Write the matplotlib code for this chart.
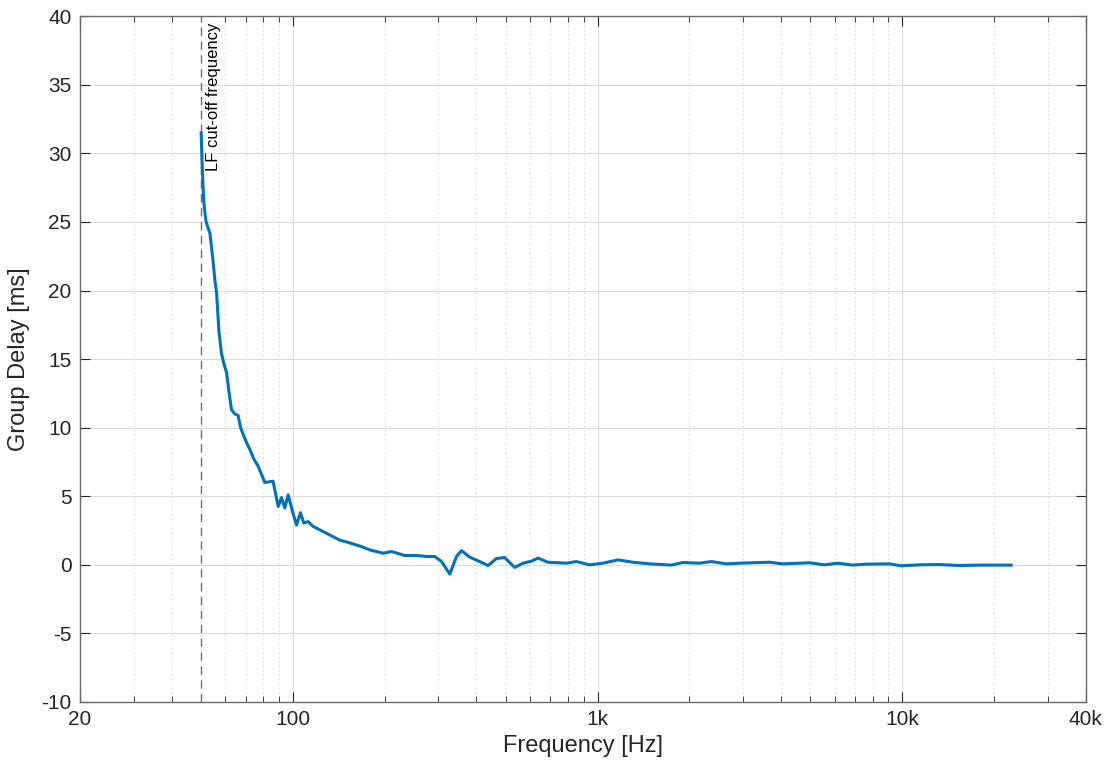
import matplotlib.pyplot as plt
import numpy as np

plt.rcParams['font.family'] = ['Liberation Sans', 'DejaVu Sans']
plt.rcParams['axes.unicode_minus'] = False

# group delay (frequency in Hz, delay in ms)
freq = [50, 50.5, 51, 51.8, 52.6, 53.4, 54.5, 55.5, 56.2, 57.2, 58.3, 59.5,
        60.6, 61.8, 62.9, 64.5, 66.1, 67.4, 68.7, 70.5, 72.3, 74.5, 76.9, 80.9,
        86.1, 89.5, 91.8, 94.1, 96.5, 100, 102.8, 105.9, 108.6, 112.2, 116.6,
        128.9, 142.6, 153.8, 167.9, 178.8, 197.8, 210.8, 232.9, 254.6, 274.4,
        292.4, 307.5, 327.4, 344.5, 357.6, 380.7, 410.2, 437.3, 465.9, 495.8,
        534.6, 569.7, 606.9, 637.9, 687.6, 790.6, 851.9, 942, 1042, 1167, 1307,
        1484, 1747, 1907, 2163, 2364, 2646, 2927, 3671, 4059, 4966, 5560, 6150,
        6890, 7620, 9085, 9925, 11400, 13260, 15430, 17950, 22800]
delay = [31.5, 28.5, 26.5, 25.1, 24.6, 24.2, 22.5, 20.7, 19.8, 17.0, 15.4, 14.6,
         14.0, 12.5, 11.3, 11.0, 10.9, 10.0, 9.5, 8.9, 8.4, 7.7, 7.2, 6.0,
         6.1, 4.25, 4.9, 4.15, 5.1, 3.8, 2.9, 3.8, 3.05, 3.15, 2.8,
         2.3, 1.8, 1.6, 1.33, 1.09, 0.85, 0.97, 0.68, 0.68, 0.61,
         0.61, 0.24, -0.68, 0.61, 1.04, 0.56, 0.24, -0.05, 0.46, 0.53,
         -0.19, 0.12, 0.27, 0.49, 0.19, 0.12, 0.24, 0.0, 0.12, 0.36, 0.19,
         0.07, -0.02, 0.17, 0.12, 0.24, 0.07, 0.12, 0.19, 0.07, 0.15, 0.0, 0.12,
         -0.02, 0.05, 0.07, -0.07, 0.0, 0.02, -0.05, -0.02, -0.02]

cutoff = 50
xticks = [20, 100, 1000, 10000, 40000]
xticklabels = ['20', '100', '1k', '10k', '40k']
yticks = np.arange(-10, 41, 5)

txt = '#262626'
fig = plt.figure(figsize=(11.1, 7.71), dpi=100)
ax = fig.add_axes([0.072, 0.0895, 0.906, 0.8895])

ax.semilogx(freq, delay, color='#0072BD', lw=2.2, zorder=3)
ax.axvline(cutoff, color='#707070', ls=(0, (6, 4)), lw=1.0, zorder=2)
ax.text(cutoff * 1.035, 39.5, 'LF cut-off frequency', rotation=90,
        ha='left', va='top', fontsize=12, color='black')

ax.set_xlim(20, 40000)
ax.set_ylim(-10, 40)
ax.set_xticks(xticks)
ax.set_xticklabels(xticklabels)
ax.set_yticks(yticks)

ax.grid(True, which='major', color='#dcdcdc', lw=0.8, ls='-')
ax.grid(True, which='minor', color='#d0d0d0', lw=0.8, ls=(0, (1, 3)))
ax.set_axisbelow(True)

ax.tick_params(which='both', direction='in', top=True, right=True,
               labelsize=15, colors=txt, pad=6)
ax.tick_params(which='major', length=7, width=0.8)
ax.tick_params(which='minor', length=4, width=0.6)
ax.yaxis.set_minor_locator(plt.NullLocator())
for s in ax.spines.values():
    s.set_color('#6a6a6a')
    s.set_linewidth(1.0)

ax.set_xlabel('Frequency [Hz]', fontsize=17, color=txt, labelpad=4)
ax.set_ylabel('Group Delay [ms]', fontsize=17, color=txt, labelpad=8)

plt.savefig('out.png', dpi=100)
